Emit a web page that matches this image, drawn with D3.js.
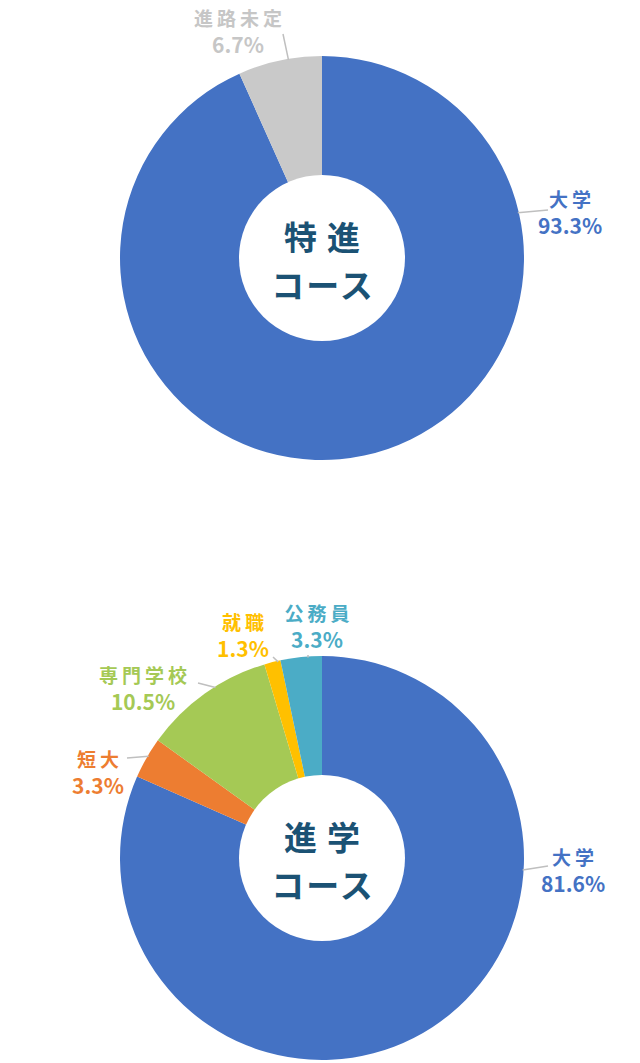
<!DOCTYPE html>
<html lang="ja">
<head>
<meta charset="UTF-8">
<title>進路状況</title>
<style>
    body {
        margin: 0;
        padding: 0;
        background: #fff;
        font-family: "Noto Sans CJK JP", "Noto Sans", sans-serif;
    }
    .label {
        font-weight: 700;
        text-anchor: middle;
        dominant-baseline: central;
    }
    .center-title {
        font-weight: 700;
        font-size: 33px;
        fill: #1b5274;
        text-anchor: middle;
        dominant-baseline: central;
    }
    .leader {
        stroke: #bfbfbf;
        stroke-width: 1.5px;
        fill: none;
    }
</style>
</head>
<body>
<svg id="chart" width="640" height="1063"></svg>
<script src="https://d3js.org/d3.v7.min.js"></script>
<script>
    // data: 特進コース
    const tokushinCats = ["大学", "進路未定"];
    const tokushinVals = [93.3, 6.7];
    const tokushinColors = ["#4472c4", "#c9c9c9"];
    const tokushinTitle = ["特進", "コース"];

    // data: 進学コース
    const shingakuCats = ["大学", "短大", "専門学校", "就職", "公務員"];
    const shingakuVals = [81.6, 3.3, 10.5, 1.3, 3.3];
    const shingakuColors = ["#4472c4", "#ed7d31", "#a5c955", "#ffc000", "#4bacc6"];
    const shingakuTitle = ["進学", "コース"];

    // label layout (relative to the chart centre): edge angle, line end, text x, first line y
    const tokushinLabels = [
        { edge: 77, end: [226, -48], x: 248, y: -60 },
        { edge: -9.6, end: [-39, -224], x: -84, y: -241 }
    ];
    const shingakuLabels = [
        { edge: 93.4, end: [226, 8], x: 251, y: -2 },
        { edge: -59.6, end: [-195, -100], x: -224, y: -100 },
        { edge: -32, end: [-124, -175], x: -179, y: -184 },
        { edge: -12.6, end: [-49, -201], x: -79, y: -237 },
        { edge: -4, end: [-14, -203], x: -5, y: -246 }
    ];

    const outerR = 202;
    const innerR = 83;
    const svg = d3.select("#chart");

    function drawDonut(cx, cy, cats, vals, colors, title, labels) {
        const g = svg.append("g").attr("transform", `translate(${cx},${cy})`);

        const pie = d3.pie().sort(null).value(d => d);
        const arcs = pie(vals);
        const arc = d3.arc().innerRadius(0).outerRadius(outerR);

        g.selectAll("path.slice")
            .data(arcs)
            .enter()
            .append("path")
            .attr("class", "slice")
            .attr("d", arc)
            .attr("fill", (d, i) => colors[i]);

        // white hole in the middle
        g.append("circle").attr("r", innerR).attr("fill", "#fff");

        // leader lines
        g.selectAll("line.leader")
            .data(labels)
            .enter()
            .append("line")
            .attr("class", "leader")
            .attr("x1", d => Math.sin(d.edge * Math.PI / 180) * (outerR - 1))
            .attr("y1", d => -Math.cos(d.edge * Math.PI / 180) * (outerR - 1))
            .attr("x2", d => d.end[0])
            .attr("y2", d => d.end[1]);

        const lab = g.selectAll("g.lab")
            .data(labels)
            .enter()
            .append("g")
            .attr("class", "lab");

        const textCol = colors.map(c => c === "#c9c9c9" ? "#c6c6c6" : c);

        lab.append("text")
            .attr("class", "label")
            .attr("x", d => d.x + 2)
            .attr("y", d => d.y)
            .attr("font-size", 19)
            .attr("letter-spacing", 4)
            .attr("fill", (d, i) => textCol[i])
            .text((d, i) => cats[i]);

        lab.append("text")
            .attr("class", "label")
            .attr("x", d => d.x)
            .attr("y", d => d.y + 27)
            .attr("font-size", 21)
            .attr("font-weight", 600)
            .attr("fill", (d, i) => textCol[i])
            .text((d, i) => d3.format(".1f")(vals[i]) + "%");

        g.append("text")
            .attr("class", "center-title")
            .attr("x", 5)
            .attr("y", -22)
            .attr("letter-spacing", 10)
            .text(title[0]);

        g.append("text")
            .attr("class", "center-title")
            .attr("x", 1)
            .attr("y", 26)
            .attr("letter-spacing", 2)
            .text(title[1]);
    }

    drawDonut(322, 258, tokushinCats, tokushinVals, tokushinColors, tokushinTitle, tokushinLabels);
    drawDonut(322, 858, shingakuCats, shingakuVals, shingakuColors, shingakuTitle, shingakuLabels);
</script>
</body>
</html>
